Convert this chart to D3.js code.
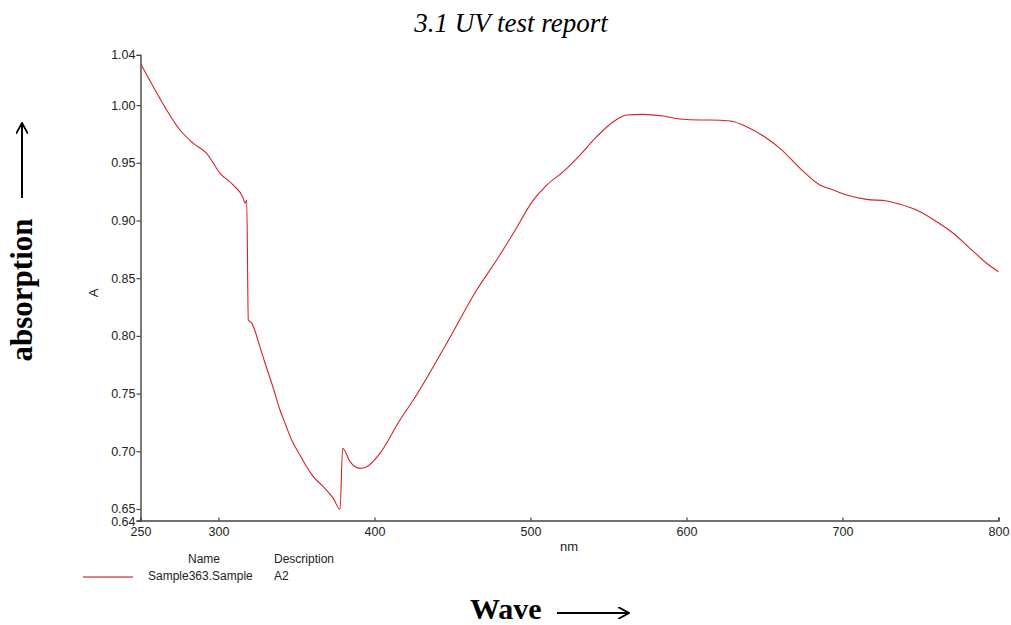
<!DOCTYPE html>
<html>
<head>
<meta charset="utf-8">
<script src="https://cdn.jsdelivr.net/npm/d3@7"></script>
<style>
  body { margin: 0; background: #fff; }
  text { font-family: "Liberation Sans", Arial, sans-serif; }
</style>
</head>
<body>
<script>
// Width and height of chart
var width = 1011;
var height = 625;

// Spectrum (wavelength nm, absorbance A)
var wave = [250, 258.2, 266.8, 275.3, 283.8, 292.4, 301.0, 309.5, 315.9, 317.0, 318.1, 319.1, 321.3,
  326.6, 329.8, 334.9, 339.4, 342.6, 346.9, 352.2, 356.5, 360.8, 367.2, 373.6, 377.9, 379.6,
  384.3, 390.7, 395.0, 403.5, 416.3, 424.9, 446.3, 465.5, 478.3, 489.0, 501.8, 510.4, 521.0,
  531.7, 542.4, 553.1, 561.7, 572.3, 585.1, 595.8, 608.7, 615.1, 627.9, 638.6, 651.4, 659.9,
  672.8, 685.6, 694.1, 702.7, 715.5, 728.3, 736.9, 749.7, 760.4, 771.0, 781.7, 792.4, 800];
var absorb = [1.036, 1.0159, 0.9957, 0.9784, 0.9669, 0.9582, 0.9409, 0.9307, 0.9192, 0.9150, 0.9177, 0.8137, 0.8111,
  0.7903, 0.7765, 0.7557, 0.7358, 0.7245, 0.7098, 0.6968, 0.6866, 0.6780, 0.6693, 0.6592, 0.6497, 0.7026,
  0.6910, 0.6852, 0.6866, 0.6982, 0.7271, 0.7444, 0.7936, 0.8397, 0.8657, 0.8889, 0.9177, 0.9307, 0.9423,
  0.9567, 0.9726, 0.9856, 0.9914, 0.9920, 0.9905, 0.9879, 0.9871, 0.9871, 0.9862, 0.9813, 0.9712, 0.9625,
  0.9452, 0.9307, 0.9264, 0.9221, 0.9183, 0.9169, 0.9140, 0.9076, 0.8989, 0.8889, 0.8759, 0.8629, 0.8556];

var xTicks = [250, 300, 400, 500, 600, 700, 800];
var yTicks = [0.64, 0.65, 0.70, 0.75, 0.80, 0.85, 0.90, 0.95, 1.00, 1.0435];
var yLabels = ["0.64", "0.65", "0.70", "0.75", "0.80", "0.85", "0.90", "0.95", "1.00", "1.04"];

var legendName = "Sample363.Sample";
var legendDesc = "A2";

var data = wave.map(function(w, i) { return { w: w, a: absorb[i] }; });

var svg = d3.select("body")
  .append("svg")
  .attr("width", width)
  .attr("height", height);

// scales
var x = d3.scaleLinear().domain([250, 800]).range([140.5, 998.5]);
var y = d3.scaleLinear().domain([0.64, 1.0435]).range([520.5, 54.9]);

// title
svg.append("text")
  .attr("x", 511)
  .attr("y", 32)
  .attr("text-anchor", "middle")
  .style("font-family", "'Liberation Serif', serif")
  .style("font-style", "italic")
  .style("font-size", "27px")
  .text("3.1 UV test report");

// y axis
var yAxis = svg.append("g")
  .attr("transform", "translate(140.5,0)")
  .call(d3.axisLeft(y)
    .tickValues(yTicks)
    .tickSize(4)
    .tickPadding(1)
    .tickFormat(function(d, i) { return yLabels[i]; }));

// the two bottom labels sit very close, nudge them apart a little
yAxis.selectAll(".tick text")
  .attr("dy", function(d) { return d === 0.64 ? "0.42em" : (d === 0.65 ? "0.25em" : "0.32em"); });

// x axis
var xAxis = svg.append("g")
  .attr("transform", "translate(0,520.5)")
  .call(d3.axisBottom(x)
    .tickValues(xTicks)
    .tickSize(-3)
    .tickPadding(7));

svg.selectAll(".domain").style("stroke", "#444").style("stroke-width", 1.4);
svg.selectAll(".tick line").style("stroke", "#444").style("stroke-width", 1.2);
svg.selectAll(".tick text")
  .style("font-family", "'Liberation Sans', Arial, sans-serif")
  .style("font-size", "12.5px")
  .style("fill", "#222");

// axis names
svg.append("text")
  .attr("x", 569)
  .attr("y", 551)
  .attr("text-anchor", "middle")
  .style("font-size", "13px")
  .style("fill", "#222")
  .text("nm");

svg.append("text")
  .attr("transform", "translate(98,293) rotate(-90)")
  .attr("text-anchor", "middle")
  .style("font-size", "13px")
  .style("fill", "#222")
  .text("A");

// the spectrum
var line = d3.line()
  .curve(d3.curveMonotoneX)
  .x(function(d) { return x(d.w); })
  .y(function(d) { return y(d.a); });

svg.append("path")
  .datum(data)
  .attr("d", line)
  .style("fill", "none")
  .style("stroke", "#d42222")
  .style("stroke-width", 1.1);

// legend
svg.append("text").attr("x", 204).attr("y", 563).attr("text-anchor", "middle")
  .style("font-size", "12px").style("fill", "#222").text("Name");
svg.append("text").attr("x", 274).attr("y", 563)
  .style("font-size", "12px").style("fill", "#222").text("Description");
svg.append("line")
  .attr("x1", 83).attr("x2", 133).attr("y1", 577).attr("y2", 577)
  .style("stroke", "#c00000").style("stroke-width", 1);
svg.append("text").attr("x", 148).attr("y", 580)
  .style("font-size", "12px").style("fill", "#222").text(legendName);
svg.append("text").attr("x", 274).attr("y", 580)
  .style("font-size", "12px").style("fill", "#222").text(legendDesc);

// arrow marker
svg.append("defs").append("marker")
  .attr("id", "arrow")
  .attr("viewBox", "0 0 10 10")
  .attr("refX", 9).attr("refY", 5)
  .attr("markerWidth", 6).attr("markerHeight", 6)
  .attr("orient", "auto")
  .append("path")
  .attr("d", "M0,0 L9,5 L0,10")
  .style("fill", "none")
  .style("stroke", "#000")
  .style("stroke-width", 1.5);

// big side label
svg.append("text")
  .attr("transform", "translate(32,290) rotate(-90)")
  .attr("text-anchor", "middle")
  .style("font-family", "'Liberation Serif', serif")
  .style("font-weight", "bold")
  .style("font-size", "31px")
  .text("absorption");
svg.append("line")
  .attr("x1", 22).attr("x2", 22).attr("y1", 198).attr("y2", 123)
  .attr("marker-end", "url(#arrow)")
  .style("stroke", "#000").style("stroke-width", 2);

// big bottom label
svg.append("text")
  .attr("x", 470)
  .attr("y", 619)
  .style("font-family", "'Liberation Serif', serif")
  .style("font-weight", "bold")
  .style("font-size", "30px")
  .text("Wave");
svg.append("line")
  .attr("x1", 557).attr("x2", 629).attr("y1", 613).attr("y2", 613)
  .attr("marker-end", "url(#arrow)")
  .style("stroke", "#000").style("stroke-width", 2);
</script>
</body>
</html>
